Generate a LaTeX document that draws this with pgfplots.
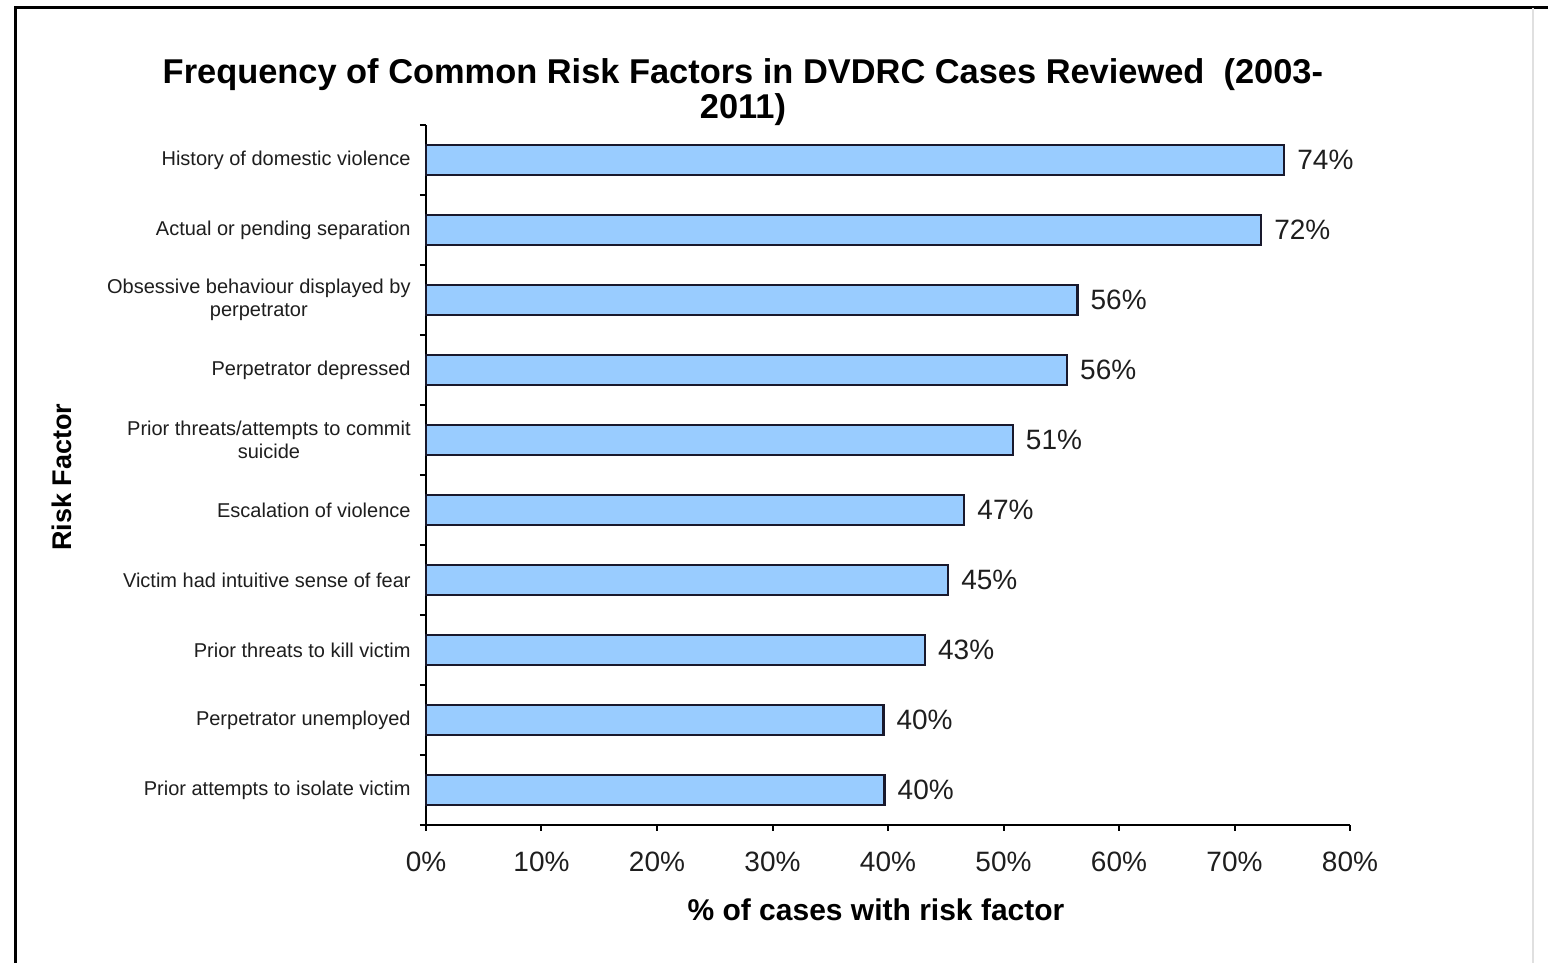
\documentclass[border=0pt]{standalone}
\usepackage{fontspec}
\setmainfont{Liberation Sans}
\usepackage{pgfplots}
\usepackage{pgfplotstable}
\pgfplotsset{compat=1.18}
\definecolor{barfill}{RGB}{153,204,255}
\definecolor{baredge}{RGB}{25,25,45}
\definecolor{txt}{RGB}{30,30,30}
\pgfplotstableread{
y val lab
0 39.7 40
1 39.6 40
2 43.2 43
3 45.2 45
4 46.6 47
5 50.8 51
6 55.5 56
7 56.4 56
8 72.3 72
9 74.3 74
}\datatable
\begin{document}
\begin{tikzpicture}
\useasboundingbox (0,0) rectangle (774pt,481.5pt);
\fill[white] (0,0) rectangle (774pt,481.5pt);
\draw[line width=1.5pt,black] (7.5pt,0) -- (7.5pt,477.5pt) -- (774pt,477.5pt);
\draw[line width=0.6pt,black!12] (766.5pt,0) -- (766.5pt,477.5pt);
\begin{axis}[
  at={(213pt,69pt)}, anchor=south west,
  scale only axis, width=462pt, height=350pt,
  xbar, bar width=15pt,
  xmin=0, xmax=80, ymin=-0.5, ymax=9.5,
  axis x line*=bottom, axis y line*=left,
  axis line style={line width=1pt, black},
  tick align=outside,
  major tick length=3pt, minor tick length=3pt,
  tick style={line width=1pt, black},
  every major y tick/.style={draw=none},
  xtick={0,10,...,80},
  xticklabels={0\%,10\%,20\%,30\%,40\%,50\%,60\%,70\%,80\%},
  xticklabel style={font=\fontsize{14}{16}\selectfont, text=txt, anchor=center, inner sep=0pt, yshift=-15.5pt},
  ytick={0,...,9},
  minor ytick={-0.5,0.5,...,9.5},
  yticklabels={Prior attempts to isolate victim, Perpetrator unemployed, Prior threats to kill victim, Victim had intuitive sense of fear, Escalation of violence, {Prior threats/attempts to commit\\suicide}, Perpetrator depressed, {Obsessive behaviour displayed by\\perpetrator}, Actual or pending separation, History of domestic violence},
  yticklabel style={font=\fontsize{10}{11.5}\selectfont, text=txt, align=center, anchor=east, inner sep=0pt, xshift=-4.5pt},
  point meta=explicit symbolic,
  nodes near coords={\pgfplotspointmeta\%},
  nodes near coords style={font=\fontsize{14}{16}\selectfont, text=txt, anchor=west, inner sep=0pt, xshift=6pt},
  title={Frequency of Common Risk Factors in DVDRC Cases Reviewed\ \ (2003-\\2011)},
  title style={font=\bfseries\fontsize{17.2}{17.5}\selectfont, align=center, anchor=center, at={(rel axis cs:0.343,1.0293)}},
  xlabel={\% of cases with risk factor},
  xlabel style={font=\bfseries\fontsize{15}{17}\selectfont, anchor=center, at={(rel axis cs:0.487,-0.1214)}},
  ylabel={Risk Factor},
  ylabel style={font=\bfseries\fontsize{13.5}{16}\selectfont, anchor=center, rotate=0, at={(rel axis cs:-0.394,0.497)}},
  clip=false,
]
\addplot[fill=barfill, draw=baredge, line width=1.2pt] table[x=val, y=y, meta=lab] {\datatable};
\end{axis}
\end{tikzpicture}
\end{document}
